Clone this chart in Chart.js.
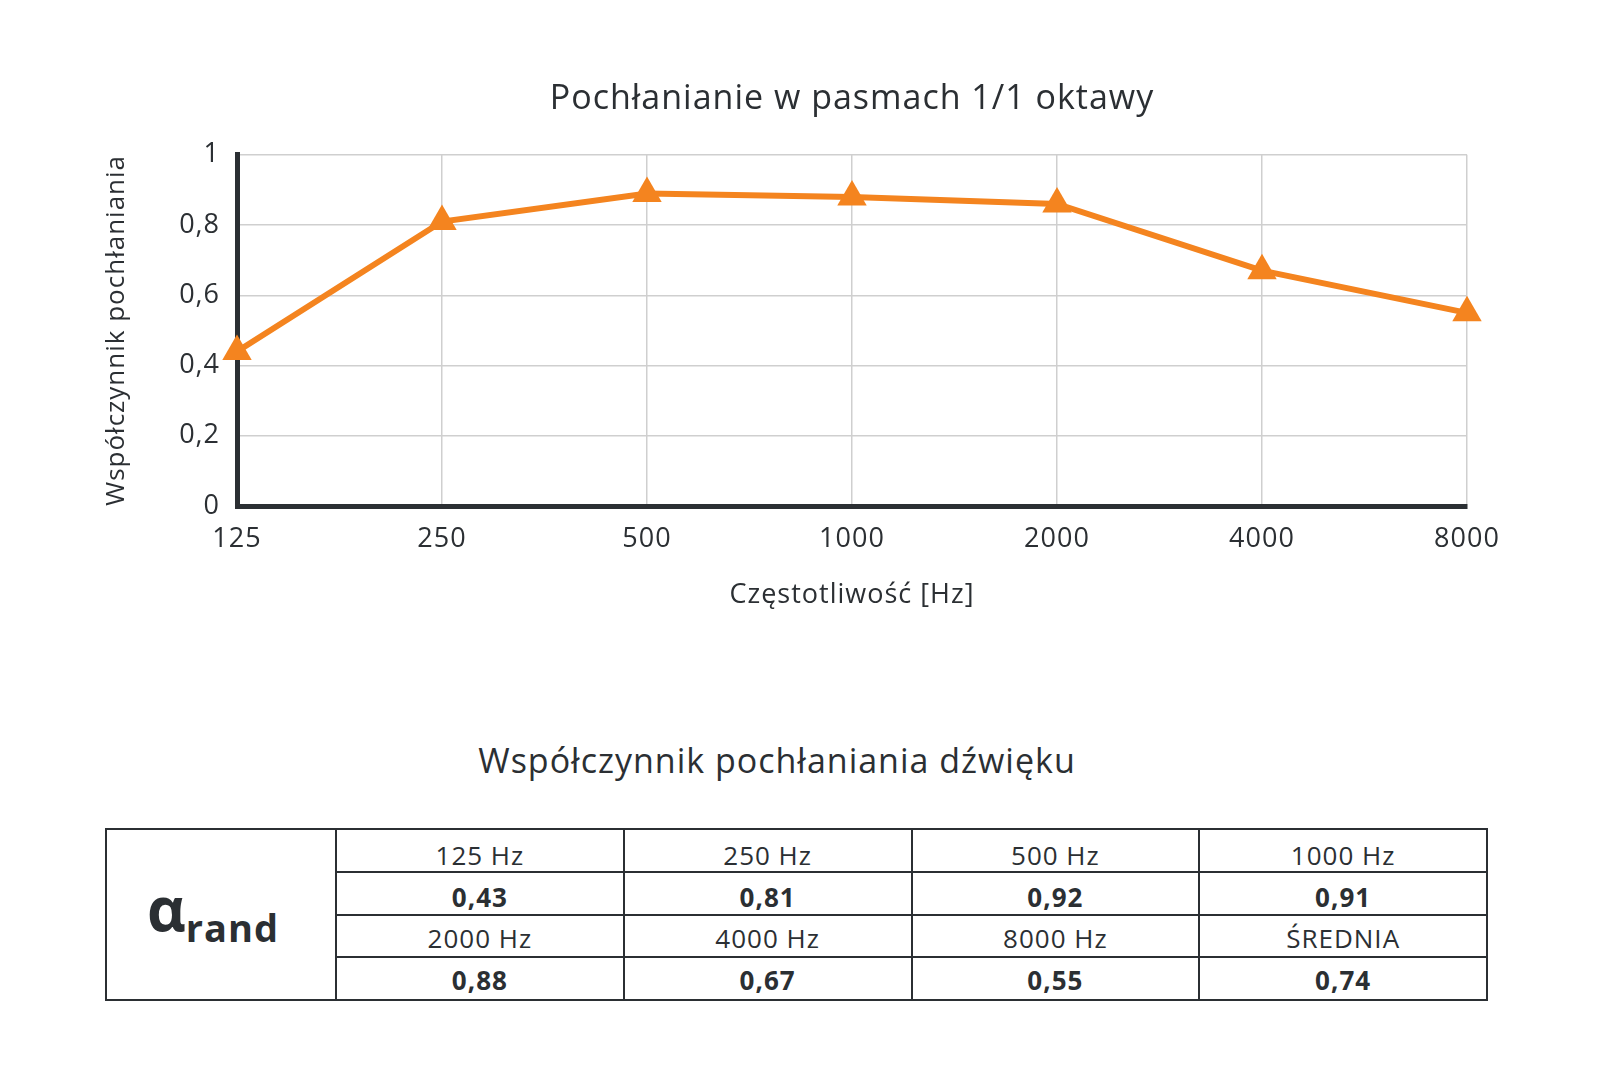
<!DOCTYPE html>
<html>
<head>
<meta charset="utf-8">
<script src="https://cdn.jsdelivr.net/npm/chart.js@4"></script>
<style>
  body { margin: 0; background: #fff; width: 1600px; height: 1067px; position: relative; overflow: hidden;
         font-family: 'Open Sans', sans-serif; color: #2b2f33; letter-spacing: 1px; }
  #absChart { position: absolute; left: 0; top: 0; }
  #tableTitle { position: absolute; left: 0; top: 740px; width: 1554px; text-align: center;
                font-size: 34px; line-height: 40px; }
  #bandTable { position: absolute; left: 105px; top: 828px; width: 1381px; border-collapse: collapse;
               table-layout: fixed; }
  #bandTable td { border: 2px solid #2b2f33; text-align: center; padding: 11px 0 0 0; font-size: 26px;
                  line-height: 29px; height: 29.75px; vertical-align: middle; }
  #bandTable tr.r1 td { padding-top: 9px; height: 31.75px; }
  #bandTable tr.r2 td { padding-top: 5px; height: 35.75px; }
  #bandTable tr.r3 td { padding-top: 3px; height: 37.75px; }
  #bandTable td.val { font-weight: bold; }
  #bandTable td.alpha { padding: 0 16px 0 0; }
  .a1 { font-size: 60px; font-weight: bold; letter-spacing: 0; }
  .a2 { font-size: 38px; font-weight: bold; letter-spacing: 1px; position: relative; top: 11px; }
</style>
</head>
<body>
<canvas id="absChart" width="1600" height="640"></canvas>
<div id="tableTitle">Współczynnik pochłaniania dźwięku</div>
<table id="bandTable"></table>
<script>
// chart data
const frequencies = ['125', '250', '500', '1000', '2000', '4000', '8000'];
const absorption = [0.44, 0.81, 0.89, 0.88, 0.86, 0.67, 0.55];
const yTickLabels = ['0', '0,2', '0,4', '0,6', '0,8', '1'];

// table data
const bandLabels = ['125 Hz', '250 Hz', '500 Hz', '1000 Hz', '2000 Hz', '4000 Hz', '8000 Hz', 'ŚREDNIA'];
const bandValues = ['0,43', '0,81', '0,92', '0,91', '0,88', '0,67', '0,55', '0,74'];

const ORANGE = '#f4841f';
const TEXT = '#2b2f33';
const FONT = "'Open Sans', sans-serif";

// the original text is slightly letter-spaced
const spacing = {
    id: 'spacing',
    beforeLayout(chart) { chart.ctx.letterSpacing = '1px'; },
    beforeDraw(chart) { chart.ctx.letterSpacing = '1px'; }
};

const ctx = document.getElementById('absChart').getContext('2d');
const absChart = new Chart(ctx, {
    type: 'line',
    data: {
        labels: frequencies,
        datasets: [{
            data: absorption,
            borderColor: ORANGE,
            backgroundColor: ORANGE,
            borderWidth: 6,
            pointStyle: 'triangle',
            pointRadius: 17,
            pointHoverRadius: 17,
            pointBorderWidth: 0,
            tension: 0,
            clip: false
        }]
    },
    options: {
        responsive: false,
        animation: false,
        layout: { padding: { left: 0, right: 133, top: 0, bottom: 0 } },
        plugins: {
            legend: { display: false },
            tooltip: { enabled: false },
            title: {
                display: true,
                text: 'Pochłanianie w pasmach 1/1 oktawy',
                fullSize: false,
                color: TEXT,
                font: { family: FONT, size: 34, weight: 'normal', lineHeight: 1.2 },
                padding: { top: 79, bottom: 35 }
            }
        },
        scales: {
            x: {
                grid: { color: '#cfcfcf', lineWidth: 1.5, drawTicks: false },
                border: { color: TEXT, width: 5 },
                ticks: { color: TEXT, font: { family: FONT, size: 27 }, padding: 17, maxRotation: 0 },
                title: {
                    display: true,
                    text: 'Częstotliwość [Hz]',
                    color: TEXT,
                    font: { family: FONT, size: 27, lineHeight: 1.2 },
                    padding: { top: 0, bottom: 28 }
                },
                afterFit(scale) { scale.height = 134; }
            },
            y: {
                min: 0,
                max: 1,
                grid: { color: '#cfcfcf', lineWidth: 1.5, drawTicks: false },
                border: { color: TEXT, width: 5 },
                ticks: {
                    stepSize: 0.2,
                    color: TEXT,
                    font: { family: FONT, size: 27 },
                    padding: 17,
                    callback: (v, i) => yTickLabels[i]
                },
                title: {
                    display: true,
                    text: 'Współczynnik pochłaniania',
                    color: TEXT,
                    font: { family: FONT, size: 26, lineHeight: 1.2 },
                    padding: { top: 101, bottom: 0 }
                },
                afterFit(scale) { scale.width = 237; }
            }
        }
    },
    plugins: [spacing]
});

// build the table: two blocks of label row + value row
const table = document.getElementById('bandTable');
let html = '<colgroup><col style="width:230px">' + '<col style="width:287.75px">'.repeat(4) + '</colgroup>';
for (let r = 0; r < 2; r++) {
    const labels = bandLabels.slice(r * 4, r * 4 + 4);
    const vals = bandValues.slice(r * 4, r * 4 + 4);
    html += '<tr class="r' + (r * 2) + '">';
    if (r === 0) html += '<td class="alpha" rowspan="4"><span class="a1">α</span><span class="a2">rand</span></td>';
    html += labels.map(l => '<td>' + l + '</td>').join('') + '</tr>';
    html += '<tr class="r' + (r * 2 + 1) + '">' + vals.map(v => '<td class="val">' + v + '</td>').join('') + '</tr>';
}
table.innerHTML = html;
</script>
</body>
</html>
